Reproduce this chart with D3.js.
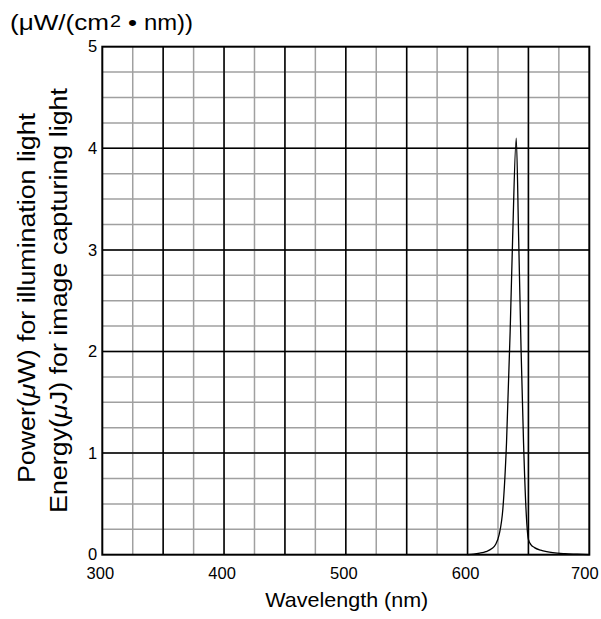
<!DOCTYPE html>
<html>
<head>
<meta charset="utf-8">
<script src="https://cdn.jsdelivr.net/npm/d3@7"></script>
<style>
  body { margin: 0; background: #fff; }
  text { font-family: "Liberation Sans", Arial, sans-serif; fill: #000; }
</style>
</head>
<body>
<svg id="chart" width="601" height="619"></svg>
<script>
// spectrum
const wavelength = [600, 605, 610, 615, 620, 623, 626, 629, 632, 635, 637, 640, 642, 644, 646, 648, 650, 652, 655, 660, 665, 670, 680, 690, 700];
const power      = [0, 0.005, 0.015, 0.03, 0.06, 0.1, 0.2, 0.45, 1.1, 2.2, 3.1, 4.1, 3.1, 2.0, 1.1, 0.45, 0.15, 0.1, 0.07, 0.045, 0.03, 0.02, 0.01, 0.005, 0];
const xTicks = [300, 400, 500, 600, 700];
const yTicks = [0, 1, 2, 3, 4, 5];
const xMajorGrid = [350, 400, 450, 500, 550, 600, 650];
const xMinorStep = 25, yMinorStep = 0.25;

(() => {
    let margin = {top: 46.7, right: 11.7, bottom: 64.3, left: 102.3},
        width = 601 - margin.left - margin.right,
        height = 619 - margin.top - margin.bottom,
        x = d3.scaleLinear().domain([300, 700]).range([0, width]),
        y = d3.scaleLinear().domain([0, 5]).range([height, 0]),
        svg = d3.select("svg#chart"),
        g = svg.append("g")
            .attr("transform", "translate(" + margin.left + "," + margin.top + ")");

    // minor grid (gray)
    g.append("g").selectAll("line")
        .data(d3.range(300 + xMinorStep, 700, xMinorStep))
        .enter().append("line")
        .attr("x1", d => x(d)).attr("x2", d => x(d))
        .attr("y1", 0).attr("y2", height)
        .attr("stroke", "#a0a0a0").attr("stroke-width", 1.5);

    g.append("g").selectAll("line")
        .data(d3.range(yMinorStep, 5, yMinorStep))
        .enter().append("line")
        .attr("y1", d => y(d)).attr("y2", d => y(d))
        .attr("x1", 0).attr("x2", width)
        .attr("stroke", "#a0a0a0").attr("stroke-width", 1.5);

    // major grid (black)
    g.append("g").selectAll("line")
        .data(xMajorGrid)
        .enter().append("line")
        .attr("x1", d => x(d)).attr("x2", d => x(d))
        .attr("y1", 0).attr("y2", height)
        .attr("stroke", "#000").attr("stroke-width", 1.5);

    g.append("g").selectAll("line")
        .data(yTicks.slice(1, -1))
        .enter().append("line")
        .attr("y1", d => y(d)).attr("y2", d => y(d))
        .attr("x1", 0).attr("x2", width)
        .attr("stroke", "#000").attr("stroke-width", 1.5);

    // spectrum
    let data = wavelength.map((w, i) => ({w: w, p: power[i]}));
    g.append("path")
        .datum(data)
        .attr("fill", "none")
        .attr("stroke", "#000")
        .attr("stroke-width", 1.3)
        .attr("d", d3.line().x(d => x(d.w)).y(d => y(d.p)).curve(d3.curveMonotoneX));

    // frame
    g.append("rect")
        .attr("width", width).attr("height", height)
        .attr("fill", "none").attr("stroke", "#000").attr("stroke-width", 2);

    // tick labels
    g.append("g").selectAll("text")
        .data(xTicks)
        .enter().append("text")
        .attr("x", d => Math.min(x(d) - 2, width - 4.5))
        .attr("y", height + 24)
        .attr("text-anchor", "middle")
        .attr("font-size", 16.5)
        .text(d => d);

    g.append("g").selectAll("text")
        .data(yTicks)
        .enter().append("text")
        .attr("x", -5).attr("y", d => y(d))
        .attr("dy", "0.35em")
        .attr("text-anchor", "end")
        .attr("font-size", 16.5)
        .text(d => d);

    // titles
    svg.append("text")
        .attr("x", margin.left + width / 2 + 1).attr("y", 607)
        .attr("text-anchor", "middle")
        .attr("font-size", 21)
        .attr("textLength", 163)
        .attr("lengthAdjust", "spacingAndGlyphs")
        .text("Wavelength (nm)");

    let yLines = [
        {pre: "Power(", unit: "W) for illumination light", base: 35, len: 370, mid: 298},
        {pre: "Energy(", unit: "J) for image capturing light", base: 67, len: 425, mid: 300.5}
    ];
    yLines.forEach(l => {
        let t = svg.append("text")
            .attr("transform", "translate(" + l.base + "," + l.mid + ") rotate(-90)")
            .attr("x", 0).attr("y", 0)
            .attr("text-anchor", "middle")
            .attr("font-size", 23)
            .attr("textLength", l.len)
            .attr("lengthAdjust", "spacingAndGlyphs");
        t.append("tspan").text(l.pre);
        t.append("tspan").attr("font-style", "italic").text("\u03BC");
        t.append("tspan").text(l.unit);
    });

    // unit label, in pieces
    let unitParts = [
        {s: "(\u03BCW/(cm", x: 10, y: 30, size: 22, len: 99},
        {s: "2", x: 110, y: 27, size: 16, len: 11},
        {s: "\u2022", x: 128, y: 30, size: 22, len: 9},
        {s: "nm))", x: 144, y: 30, size: 22, len: 49}
    ];
    svg.append("g").selectAll("text")
        .data(unitParts)
        .enter().append("text")
        .attr("x", d => d.x).attr("y", d => d.y)
        .attr("font-size", d => d.size)
        .attr("textLength", d => d.len)
        .attr("lengthAdjust", "spacingAndGlyphs")
        .text(d => d.s);
})();
</script>
</body>
</html>
